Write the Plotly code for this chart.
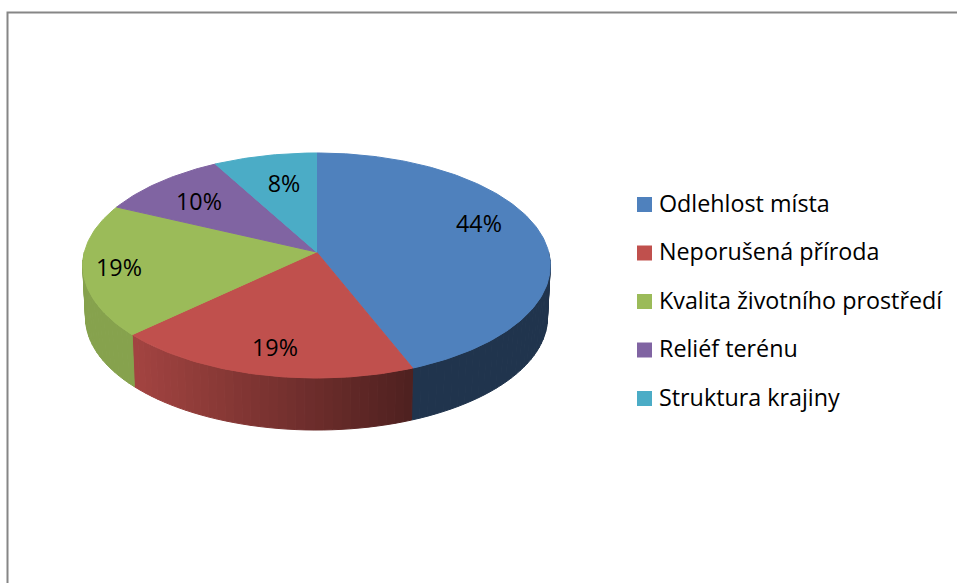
import math
import plotly.graph_objects as go

# Data
categories = ["Odlehlost místa", "Neporušená příroda", "Kvalita životního prostředí", "Reliéf terénu", "Struktura krajiny"]
values = [44, 19, 19, 10, 8]
colors = ["#4F81BD", "#C0504D", "#9BBB59", "#8064A2", "#4BACC6"]

# Pie geometry, all in screen pixels (the axes below run 0-957 / 583-0)
cx, cy = 316.5, 252
radius_x, radius_y = 232.1, 110.9
tilt = 0.12
depth = 52
bottom_scale = 0.988

label_x = [479, 275, 119, 199, 284]
label_y = [226, 350, 270, 204, 186]
legend_swatch_x = 644.5
legend_text_x = 659
legend_top = 204.5
legend_step = 48.5
legend_text_shift = 1.5
font = "Open Sans"
font_size = 23.3


def project(turn, r=1.0, drop=0, scale=1.0):
    # turn is the fraction of the circle, clockwise from 12 o'clock
    a = turn * 2 * math.pi
    u, v = r * math.sin(a), r * math.cos(a)
    w = 1 + tilt * v
    return cx + scale * radius_x * u / w, cy - radius_y * v / w + drop


def shade(x):
    # side wall gets darker going right, like the Excel 3D pie
    if x < 134:
        return 0.87
    if x > 412:
        return 0.41
    return 0.85 - 0.44 * (x - 134) / 278


def scaled(color, f):
    r, g, b = [int(color[i:i + 2], 16) for i in (1, 3, 5)]
    return f"rgb({int(r * f)},{int(g * f)},{int(b * f)})"


def polygon(xs, ys, color):
    return go.Scatter(x=xs, y=ys, mode="lines", fill="toself", fillcolor=color,
                      line=dict(color=color, width=1), hoverinfo="skip", showlegend=False)


fig = go.Figure()

# Side wall: thin strips between the top rim and the bottom rim
start = 0
slices = []
for v, c in zip(values, colors):
    slices.append((start, start + v / sum(values), c))
    start += v / sum(values)

walls = []
for t0, t1, c in slices:
    a, b = max(t0, 0.25), min(t1, 0.75)
    if a >= b:
        continue
    n = max(2, int((b - a) * 360 / 2))
    for i in range(n):
        s0 = a + (b - a) * i / n
        s1 = a + (b - a) * (i + 1) / n
        x0, y0 = project(s0)
        x1, y1 = project(s1)
        x2, y2 = project(s1, drop=depth, scale=bottom_scale)
        x3, y3 = project(s0, drop=depth, scale=bottom_scale)
        walls.append(polygon([x0, x1, x2, x3, x0], [y0, y1, y2, y3, y0],
                             scaled(c, shade((x0 + x1) / 2))))
fig.add_traces(walls)

# Top face
for t0, t1, c in slices:
    n = max(4, int((t1 - t0) * 360))
    pts = [project(t0 + (t1 - t0) * i / n) for i in range(n + 1)]
    xs = [cx] + [p[0] for p in pts] + [cx]
    ys = [cy] + [p[1] for p in pts] + [cy]
    fig.add_trace(polygon(xs, ys, c))

# Percent labels
fig.add_trace(go.Scatter(x=label_x, y=label_y, mode="text", text=[f"{v}%" for v in values],
                         textposition="middle center", textfont=dict(family=font, size=font_size, color="black"),
                         hoverinfo="skip", showlegend=False))

# Legend
legend_y = [legend_top + legend_step * i for i in range(len(categories))]
fig.add_trace(go.Scatter(x=[legend_swatch_x] * len(categories), y=legend_y, mode="markers",
                         marker=dict(symbol="square", size=15, color=colors, line=dict(width=0)),
                         hoverinfo="skip", showlegend=False))
fig.add_trace(go.Scatter(x=[legend_text_x] * len(categories), y=[y + legend_text_shift for y in legend_y],
                         mode="text", text=categories,
                         textposition="middle right", textfont=dict(family=font, size=font_size, color="black"),
                         hoverinfo="skip", showlegend=False))

fig.update_layout(
    width=957,
    height=583,
    margin=dict(l=0, r=0, t=0, b=0),
    paper_bgcolor="white",
    plot_bgcolor="white",
    showlegend=False,
    xaxis=dict(range=[0, 957], visible=False, fixedrange=True),
    yaxis=dict(range=[583, 0], visible=False, fixedrange=True),
    shapes=[dict(type="path", path="M 7.5 583 L 7.5 12.5 L 957 12.5", xref="x", yref="y",
                 line=dict(color="#868686", width=2))],
)

fig.write_html("out.html", config=dict(displayModeBar=False),
               post_script="document.body.style.margin='0';document.body.style.overflow='hidden';")
